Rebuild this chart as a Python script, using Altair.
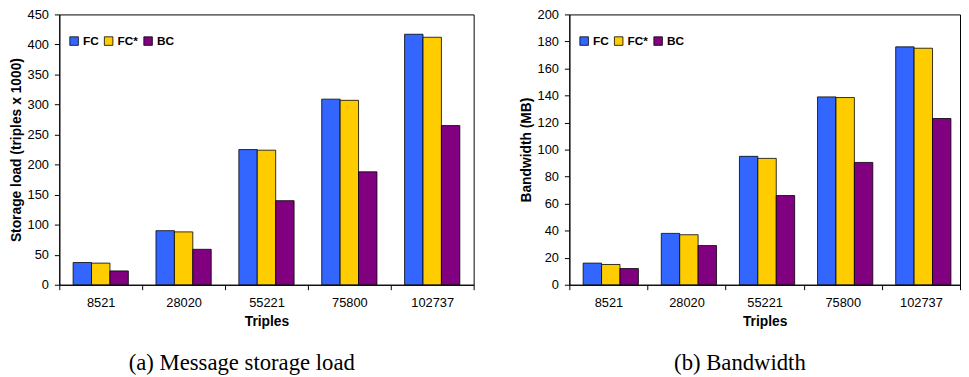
import altair as alt
import pandas as pd

categories = ["8521", "28020", "55221", "75800", "102737"]
series = ["FC", "FC*", "BC"]
colors = ["#3366FF", "#FFCC00", "#800080"]

storage_fc = [37, 90, 225, 309, 417]
storage_fcs = [36, 88, 224, 307, 412]
storage_bc = [23, 59, 140, 188, 265]

bw_fc = [16, 38, 95, 139, 176]
bw_fcs = [15, 37, 93.5, 138.5, 175]
bw_bc = [12, 29, 66, 90.5, 123]


def make_df(a, b, c):
    rows = []
    for s, vals in zip(series, [a, b, c]):
        for cat, v in zip(categories, vals):
            rows.append({"Triples": cat, "Series": s, "Value": v})
    return pd.DataFrame(rows)


FONT = "Liberation Sans"


def panel(df, ytitle, ymax, width, caption, ticks):
    return alt.Chart(df).mark_bar(stroke="#000000", strokeWidth=0.8).encode(
        x=alt.X("Triples:N", sort=categories, title="Triples",
                scale=alt.Scale(paddingInner=0, paddingOuter=0),
                axis=alt.Axis(labelAngle=0, tickBand="extent", tickSize=5,
                              labelPadding=7, titlePadding=5)),
        xOffset=alt.XOffset("Series:N", sort=series,
                            scale=alt.Scale(domain=series, paddingInner=0, paddingOuter=0.75)),
        y=alt.Y("Value:Q", title=ytitle,
                scale=alt.Scale(domain=[0, ymax], nice=False),
                axis=alt.Axis(values=ticks, grid=False, tickSize=5, labelPadding=6,
                              titlePadding=4)),
        color=alt.Color("Series:N", sort=series,
                        scale=alt.Scale(domain=series, range=colors),
                        legend=alt.Legend(orient="none", legendX=9, legendY=21,
                                          direction="horizontal", title=None,
                                          symbolType="square", symbolSize=75,
                                          symbolStrokeColor="#000000", symbolStrokeWidth=0.8,
                                          symbolOpacity=1,
                                          labelFont=FONT, labelFontWeight="bold",
                                          labelFontSize=12, labelColor="#000000",
                                          columnPadding=4, labelOffset=3)),
    ).properties(
        width=width, height=274,
        title=alt.TitleParams(caption, orient="bottom", font="Liberation Serif",
                              fontSize=23, fontWeight="normal", color="#000000",
                              offset=24, frame="bounds", anchor="middle"),
    )


left = panel(make_df(storage_fc, storage_fcs, storage_bc), "Storage load (triples x 1000)",
             450, 420, "(a) Message storage load", list(range(0, 451, 50)))
right = panel(make_df(bw_fc, bw_fcs, bw_bc), "Bandwidth (MB)",
              200, 396, "(b) Bandwidth", list(range(0, 201, 20)))

chart = alt.hconcat(left, right, spacing=44).resolve_scale(
    color="independent"
).properties(
    padding={"left": 0, "top": -3, "right": 0, "bottom": 0}
).configure_view(
    stroke="#000000", strokeWidth=1
).configure_axis(
    labelFont=FONT, labelFontSize=13, labelColor="#000000",
    titleFont=FONT, titleFontSize=14, titleFontWeight="bold", titleColor="#000000",
    domainColor="#000000", tickColor="#000000", domainWidth=1,
)

chart.save("out.html", embed_options={"renderer": "svg", "actions": False})
